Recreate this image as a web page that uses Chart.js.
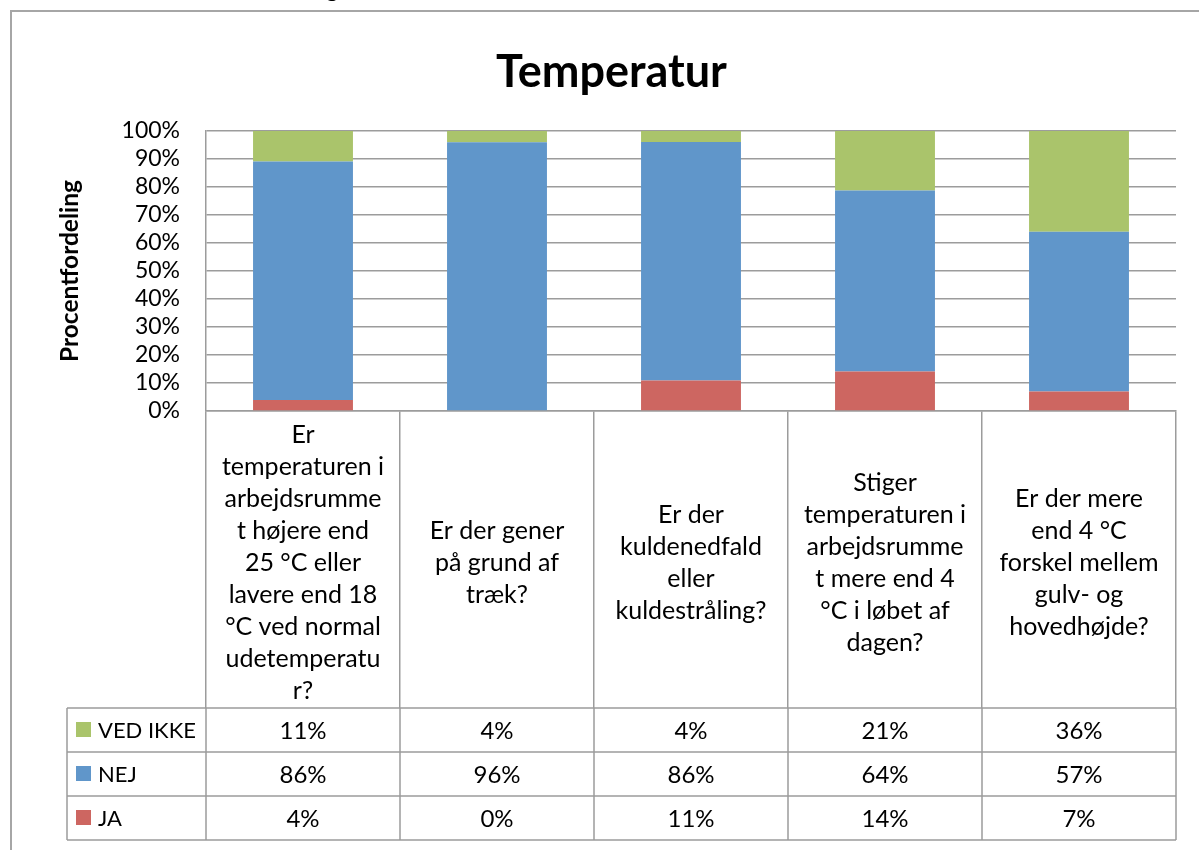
<!DOCTYPE html>
<html>
<head>
<meta charset="utf-8">
<script src="https://cdn.jsdelivr.net/npm/chart.js@4/dist/chart.umd.min.js"></script>
<style>
  html, body { margin: 0; padding: 0; background: #fff; overflow: hidden; }
  #c { display: block; }
</style>
</head>
<body>
<canvas id="c" width="1199" height="850"></canvas>
<script>
// ---- data ----
const categories = [
  ["Er", "temperaturen i", "arbejdsrumme", "t højere end", "25 °C eller", "lavere end 18", "°C ved normal", "udetemperatu", "r?"],
  ["Er der gener", "på grund af", "træk?"],
  ["Er der", "kuldenedfald", "eller", "kuldestråling?"],
  ["Stiger", "temperaturen i", "arbejdsrumme", "t mere end 4", "°C i løbet af", "dagen?"],
  ["Er der mere", "end 4 °C", "forskel mellem", "gulv- og", "hovedhøjde?"]
];
const seriesNames = ["VED IKKE", "NEJ", "JA"];
const vedIkke = [11, 4, 4, 21, 36];
const nej = [86, 96, 86, 64, 57];
const ja = [4, 0, 11, 14, 7];
const yTickValues = [0, 10, 20, 30, 40, 50, 60, 70, 80, 90, 100];
const chartTitle = "Temperatur";
const yAxisTitle = "Procentfordeling";

const colors = { "VED IKKE": "#AAC46B", "NEJ": "#6096CA", "JA": "#CD6661" };
const lineColor = "#9c9c9c";

// 100% stacking: share of each answer within its question
const totals = ja.map((v, i) => v + nej[i] + vedIkke[i]);
const share = arr => arr.map((v, i) => v / totals[i] * 100);

const tableRows = [
  { name: seriesNames[0], data: vedIkke },
  { name: seriesNames[1], data: nej },
  { name: seriesNames[2], data: ja }
];

const CAT_CELL_H = 297;
const ROW_H = 44;
const TABLE_LEFT = 67;

const tablePlugin = {
  id: 'dataTable',
  beforeDraw(chart) {
    const ctx = chart.ctx;
    ctx.save();
    ctx.strokeStyle = "#a6a6a6";
    ctx.lineWidth = 2;
    ctx.beginPath();
    ctx.moveTo(11, 860);
    ctx.lineTo(11, 11);
    ctx.lineTo(1210, 11);
    ctx.stroke();
    ctx.fillStyle = "#000";
    ctx.font = "24px Lato";
    ctx.textAlign = "left";
    ctx.textBaseline = "alphabetic";
    ctx.fillText("g", 326, -3);
    ctx.restore();
  },
  afterDraw(chart) {
    const { ctx, chartArea: a, scales: { x } } = chart;
    const n = categories.length;
    const half = (x.getPixelForValue(1) - x.getPixelForValue(0)) / 2;
    const colLeft = x.getPixelForValue(0) - half;
    const colRight = x.getPixelForValue(n - 1) + half;
    const top = a.bottom + CAT_CELL_H;
    const bottom = top + ROW_H * tableRows.length;
    ctx.save();
    ctx.strokeStyle = lineColor;
    ctx.lineWidth = 1.5;
    ctx.beginPath();
    for (let r = 0; r <= tableRows.length; r++) {
      const y = top + r * ROW_H;
      ctx.moveTo(TABLE_LEFT, y);
      ctx.lineTo(colRight, y);
    }
    ctx.moveTo(TABLE_LEFT, top);
    ctx.lineTo(TABLE_LEFT, bottom);
    for (let i = 0; i <= n; i++) {
      const xx = colLeft + i * 2 * half;
      ctx.moveTo(xx, top);
      ctx.lineTo(xx, bottom);
    }
    ctx.stroke();

    tableRows.forEach((row, r) => {
      const cy = top + r * ROW_H + ROW_H / 2;
      ctx.fillStyle = colors[row.name];
      ctx.fillRect(TABLE_LEFT + 9, cy - 8, 15, 15);
      ctx.fillStyle = "#000";
      ctx.font = "22px Lato";
      ctx.textAlign = "left";
      ctx.textBaseline = "middle";
      ctx.fillText(row.name, TABLE_LEFT + 31, cy + 1);
      ctx.font = "24px Lato";
      ctx.textAlign = "center";
      row.data.forEach((v, i) => {
        ctx.fillText(v + "%", x.getPixelForValue(i), cy + 1);
      });
    });
    ctx.restore();
  }
};

const ctx = document.getElementById('c').getContext('2d');
new Chart(ctx, {
  type: 'bar',
  data: {
    labels: categories,
    datasets: [
      { label: seriesNames[2], data: share(ja), backgroundColor: colors["JA"] },
      { label: seriesNames[1], data: share(nej), backgroundColor: colors["NEJ"] },
      { label: seriesNames[0], data: share(vedIkke), backgroundColor: colors["VED IKKE"] }
    ]
  },
  options: {
    responsive: false,
    animation: false,
    devicePixelRatio: 1,
    layout: { padding: { left: 47, right: 23, top: 0, bottom: 0 } },
    datasets: {
      bar: { barPercentage: 0.515, categoryPercentage: 1, borderWidth: 0 }
    },
    plugins: {
      legend: { display: false },
      tooltip: { enabled: false },
      title: {
        display: true,
        text: chartTitle,
        color: "#000",
        font: { family: "Lato", size: 45, weight: "bold" },
        padding: { top: 45, bottom: 32 }
      }
    },
    scales: {
      x: {
        stacked: true,
        afterFit(scale) { scale.height = 439; },
        border: { display: true, color: lineColor, width: 1.5 },
        grid: {
          offset: true,
          drawOnChartArea: false,
          drawTicks: true,
          tickLength: CAT_CELL_H,
          color: lineColor,
          tickColor: lineColor,
          lineWidth: 1.5
        },
        ticks: {
          autoSkip: false,
          maxRotation: 0,
          minRotation: 0,
          crossAlign: 'center',
          padding: -273,
          color: "#000",
          font: { family: "Lato", size: 25, lineHeight: '32px' }
        }
      },
      y: {
        stacked: true,
        min: 0,
        max: 100,
        afterFit(scale) { scale.width = 159; },
        afterBuildTicks(scale) { scale.ticks = yTickValues.map(v => ({ value: v })); },
        border: { display: true, color: lineColor, width: 1.5 },
        grid: { color: lineColor, lineWidth: 1.5, drawTicks: false },
        ticks: {
          autoSkip: false,
          padding: 26,
          color: "#000",
          font: { family: "Lato", size: 23 },
          callback: v => v + "%"
        },
        title: {
          display: true,
          text: yAxisTitle,
          color: "#000",
          font: { family: "Lato", size: 24.5, weight: "bold" },
          padding: { top: 8, bottom: 0 }
        }
      }
    }
  },
  plugins: [tablePlugin]
});
</script>
</body>
</html>
